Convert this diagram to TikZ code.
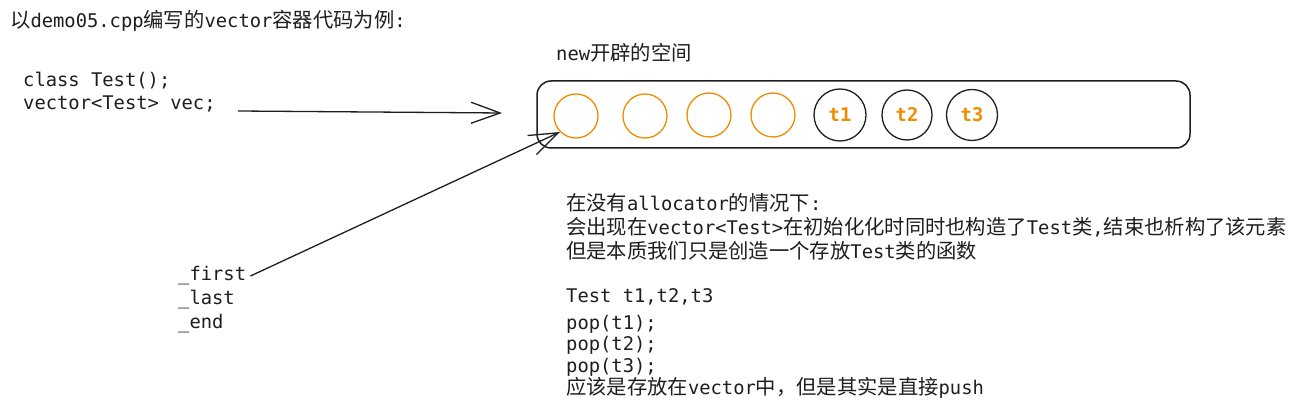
\documentclass[tikz,border=0pt]{standalone}
\usepackage{fontspec}
\setmonofont{DejaVu Sans Mono}
\newfontfamily\cjk[Scale=1.08]{Noto Sans CJK SC}
\usetikzlibrary{arrows.meta}

\definecolor{ink}{HTML}{1E1E1E}
\definecolor{amber}{HTML}{F08C00}

% switch to the CJK face for Chinese characters, back to mono for the rest
\XeTeXinterchartokenstate=1
\chardef\cjkclass=7
\count255="3000
\loop \XeTeXcharclass\count255=\cjkclass \advance\count255 by 1 \ifnum\count255<"3040 \repeat
\count255="4E00
\loop \XeTeXcharclass\count255=\cjkclass \advance\count255 by 1 \ifnum\count255<"A000 \repeat
\count255="FF00
\loop \XeTeXcharclass\count255=\cjkclass \advance\count255 by 1 \ifnum\count255<"FFF0 \repeat
\XeTeXinterchartoks 0 \cjkclass = {\cjk}
\XeTeXinterchartoks 4095 \cjkclass = {\cjk}
\XeTeXinterchartoks \cjkclass 0 = {\ttfamily}
\XeTeXinterchartoks 4095 0 = {\ttfamily}

\tikzset{
  txt/.style={anchor=base west, inner sep=0pt, text=ink,
    font=\ttfamily\fontsize{18.8}{24}\selectfont},
  slot/.style={circle, draw=amber, line width=1.3pt, minimum size=44pt, inner sep=0pt},
  obj/.style={circle, draw=ink, line width=1.3pt, minimum size=50pt, inner sep=0pt,
    text=amber, font=\ttfamily\bfseries\fontsize{18.8}{24}\selectfont},
  arr/.style={draw=ink, line width=1.3pt, -{Straight Barb[length=29pt,width=21pt]}}
}

\begin{document}
\begin{tikzpicture}[x=1pt,y=-1pt]
    \fill[white] (0,0) rectangle (1295,419);
    \useasboundingbox (0,0) rectangle (1295,419);

    \node[txt] (title) at (10,28) {以demo05.cpp编写的vector容器代码为例:};

    \node[txt] (cls) at (23,87) {class Test();};
    \node[txt] (vec) at (23,110) {vector<Test> vec;};

    \node[txt] (space) at (556,61) {new开辟的空间};
    \node[draw=ink, line width=1.5pt, rounded corners=14pt,
          minimum width=653pt, minimum height=67pt] (mem) at (863.5,114.5) {};

    \node[slot] (c1) at (576,116) {};
    \node[slot] (c2) at (645,116) {};
    \node[slot] (c3) at (709,115) {};
    \node[slot] (c4) at (773,115) {};
    \node[obj, minimum size=52pt] (t1) at (840,115) {t1};
    \node[obj] (t2) at (907,115) {t2};
    \node[obj, minimum size=51pt] (t3) at (972,115) {t3};

    \node[txt] (pfirst) at (178,281) {\_first};
    \node[txt] (plast) at (178,305) {\_last};
    \node[txt] (pend) at (178,329) {\_end};

    \node[txt] (n1) at (566,211) {在没有allocator的情况下:};
    \node[txt] (n2) at (566,235) {会出现在vector<Test>在初始化化时同时也构造了Test类,结束也析构了该元素};
    \node[txt] (n3) at (566,259) {但是本质我们只是创造一个存放Test类的函数};

    \node[txt] (tdecl) at (566,303) {Test t1,t2,t3};
    \node[txt] (p1) at (566,329.5) {pop(t1);};
    \node[txt] (p2) at (566,351) {pop(t2);};
    \node[txt] (p3) at (566,372.5) {pop(t3);};
    \node[txt] (push) at (566,394) {应该是存放在vector中，但是其实是直接push};

    \coordinate (va) at (238,111);
    \coordinate (vb) at (502,113);
    \draw[arr] (va) -- (vb);% vec
    \draw[arr] ([xshift=4pt]pfirst.east) -- (c1.south west);% _first
\end{tikzpicture}
\end{document}
